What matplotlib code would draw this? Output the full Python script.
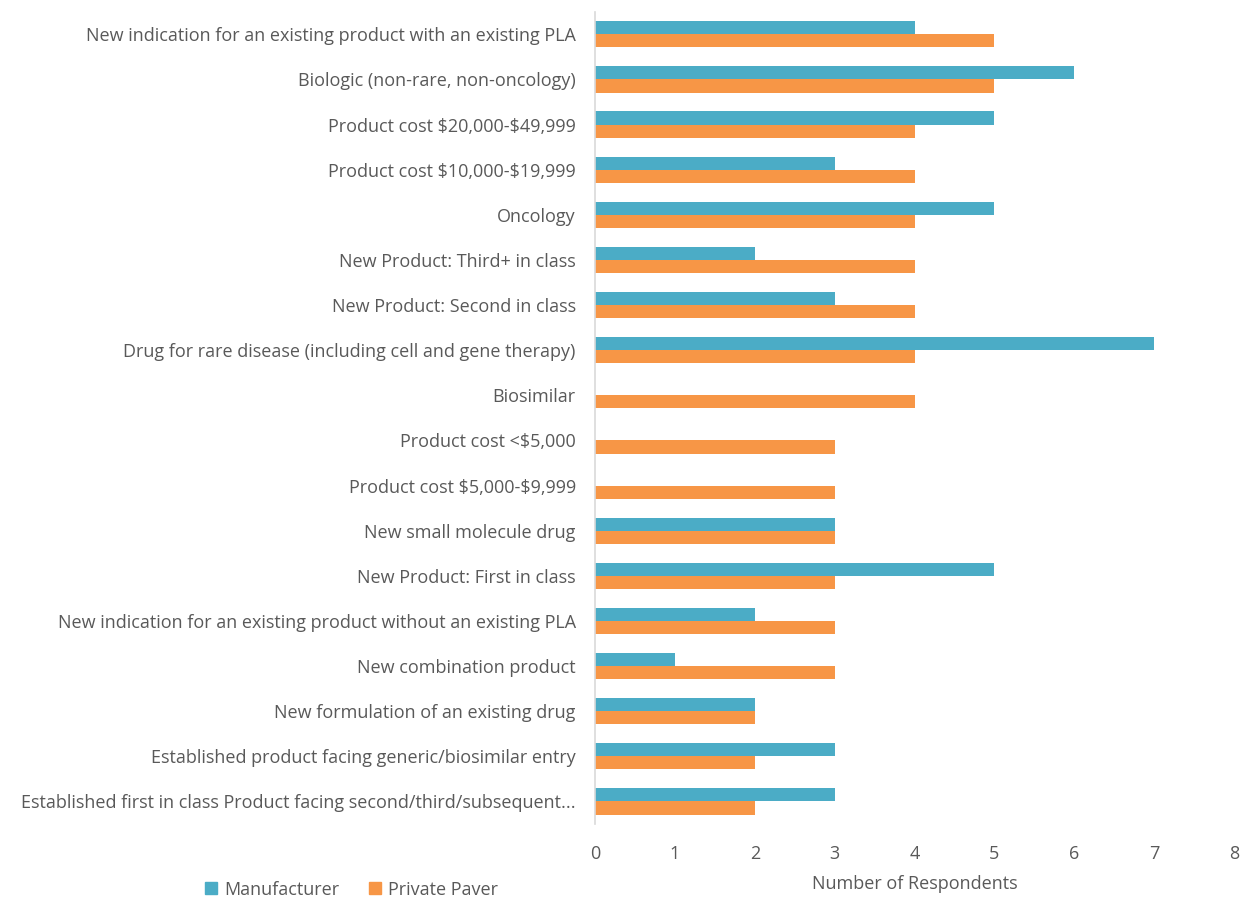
import numpy as np
import matplotlib.pyplot as plt
import matplotlib.lines as mlines

plt.rcParams['font.family'] = ['Open Sans', 'DejaVu Sans']

categories = [
    "New indication for an existing product with an existing PLA",
    "Biologic (non-rare, non-oncology)",
    "Product cost \\$20,000-\\$49,999",
    "Product cost \\$10,000-\\$19,999",
    "Oncology",
    "New Product: Third+ in class",
    "New Product: Second in class",
    "Drug for rare disease (including cell and gene therapy)",
    "Biosimilar",
    "Product cost <\\$5,000",
    "Product cost \\$5,000-\\$9,999",
    "New small molecule drug",
    "New Product: First in class",
    "New indication for an existing product without an existing PLA",
    "New combination product",
    "New formulation of an existing drug",
    "Established product facing generic/biosimilar entry",
    "Established first in class Product facing second/third/subsequent...",
]
manufacturer = [4, 6, 5, 3, 5, 2, 3, 7, 0, 0, 0, 3, 5, 2, 1, 2, 3, 3]
private_payer = [5, 5, 4, 4, 4, 4, 4, 4, 4, 3, 3, 3, 3, 3, 3, 2, 2, 2]
series_names = ["Manufacturer", "Private Paver"]
colors = ["#4BACC6", "#F79646"]
text_color = "#595959"
fs = 13

fig = plt.figure(figsize=(12.4, 9.05), dpi=100)
ax = fig.add_axes([0.48, 0.0895, 0.515, 0.8975])

y = np.arange(len(categories))
h = 0.29
ax.barh(y - h / 2, manufacturer, height=h, color=colors[0])
ax.barh(y + h / 2, private_payer, height=h, color=colors[1])

ax.set_ylim(len(categories) - 0.5, -0.5)
ax.set_xlim(0, 8)
ax.set_xticks(range(9))
ax.set_yticks(y)
ax.set_yticklabels(categories, fontsize=fs, color=text_color)
ax.tick_params(axis='x', labelsize=fs, colors=text_color, length=0, pad=15)
ax.tick_params(axis='y', length=0, pad=14)
ax.set_xlabel("Number of Respondents", fontsize=fs, color=text_color, labelpad=9)

for s in ["top", "right", "bottom"]:
    ax.spines[s].set_visible(False)
ax.spines["left"].set_color("#D9D9D9")
ax.spines["left"].set_linewidth(1.2)

handles = [mlines.Line2D([], [], color=c, marker="s", markersize=8, linewidth=0, label=n)
           for c, n in zip(colors, series_names)]
fig.legend(handles=handles, loc="lower left", bbox_to_anchor=(0.15, -0.011), ncol=2,
           frameon=False, fontsize=fs, labelcolor=text_color, handletextpad=0.2,
           columnspacing=1.5, handlelength=1.0)

fig.savefig("out.png", dpi=100)
